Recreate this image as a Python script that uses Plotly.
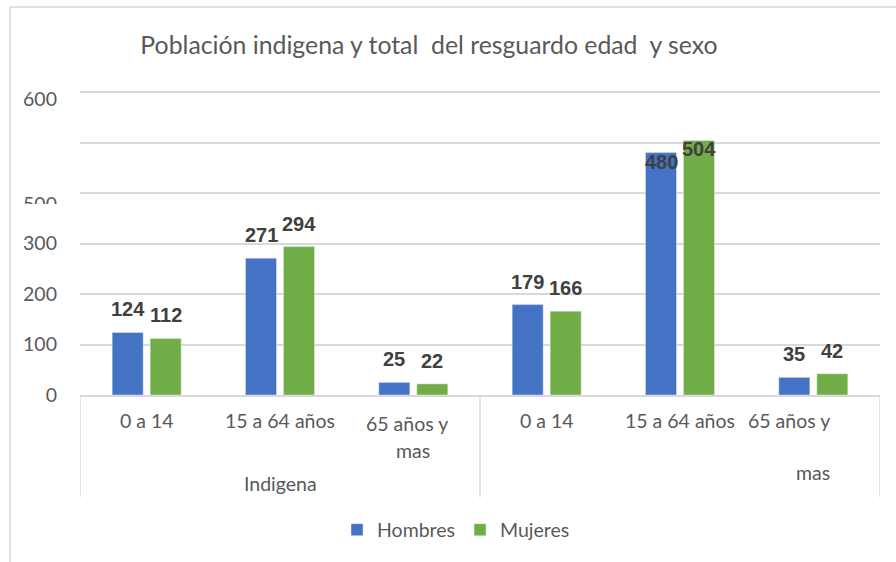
import plotly.graph_objects as go

# ---- data ----
groups = ["Indigena", "Indigena", "Indigena", "Total", "Total", "Total"]
age_groups = ["0 a 14", "15 a 64 años", "65 años y mas", "0 a 14", "15 a 64 años", "65 años y mas"]
hombres = [124, 271, 25, 179, 480, 35]
mujeres = [112, 294, 22, 166, 504, 42]
y_tick_text = ["0", "100", "200", "300", "500", "600"]

# ---- layout helpers ----
BLUE = "#4472C4"
GREEN = "#70AD47"
GRID = "#D9D9D9"
TXT = "#595959"
FONT = "Lato, Carlito, Calibri, sans-serif"

n = len(age_groups)
xpos = list(range(n))
H_PX = 304.0  # plot height in px (for label placement)
YMAX = 602

fig = go.Figure()
fig.add_trace(go.Bar(x=xpos, y=hombres, name="Hombres", marker_color=BLUE))
fig.add_trace(go.Bar(x=xpos, y=mujeres, name="Mujeres", marker_color=GREEN))
# empty trace so the label axis exists
fig.add_trace(go.Scatter(x=[], y=[], yaxis="y2", showlegend=False, hoverinfo="skip"))

annotations = []
# data labels
off = 0.142
for i in range(n):
    for val, dx in ((hombres[i], -off), (mujeres[i], off)):
        inside = val > 450
        annotations.append(dict(
            x=i + dx, y=val, xref="x", yref="y", text=f"<b>{val}</b>",
            showarrow=False, xanchor="center",
            yanchor="top" if inside else "bottom",
            yshift=4 if inside else 10,
            font=dict(family="Liberation Sans, Arial, sans-serif", size=20, color="#404040"),
        ))

# category labels
def py(px):
    return (395 - px) / H_PX

LBL = dict(family=FONT, size=19.5, color=TXT)
# (text, vertical px, horizontal shift in category units)
cat_lines = {
    0: [("0 a 14", 420, 0)],
    1: [("15 a 64 años", 420, 0)],
    2: [("65 años y", 423, -0.05), ("mas", 450, 0)],
    3: [("0 a 14", 420, 0)],
    4: [("15 a 64 años", 420, 0)],
    5: [("65 años y", 420, -0.185), ("mas", 472, 0)],
}
for i, lines in cat_lines.items():
    for txt, ypx, dx in lines:
        annotations.append(dict(x=i + dx, y=py(ypx), xref="x", yref="paper", text=txt,
                                showarrow=False, xanchor="center", yanchor="middle",
                                font=LBL))
annotations.append(dict(x=1, y=py(483), xref="x", yref="paper", text=groups[0],
                        showarrow=False, xanchor="center", yanchor="middle",
                        font=LBL))

shapes = []
# dividers in the category area
for xd in (-0.5, 2.5, 5.5):
    shapes.append(dict(type="line", xref="x", yref="paper", x0=xd, x1=xd,
                       y0=0, y1=py(497), line=dict(color=GRID, width=1.5)))
# chart frame (left and top edges)
shapes.append(dict(type="line", xref="paper", yref="paper", x0=(10 - 80) / 800, x1=(10 - 80) / 800,
                   y0=py(7), y1=py(600), line=dict(color=GRID, width=1.5)))
shapes.append(dict(type="line", xref="paper", yref="paper", x0=(10 - 80) / 800, x1=(900 - 80) / 800,
                   y0=py(7), y1=py(7), line=dict(color=GRID, width=1.5)))
# white mask clipping lower half of the "500" label
shapes.append(dict(type="rect", xref="paper", yref="paper", layer="above",
                   x0=(15 - 80) / 800, x1=(75 - 80) / 800, y0=py(218), y1=py(204),
                   fillcolor="white", line=dict(width=0)))

fig.update_layout(
    width=896, height=562,
    margin=dict(l=80, r=16, t=91, b=167),
    paper_bgcolor="white", plot_bgcolor="white",
    barmode="group", bargap=0.43, bargroupgap=0.184,
    title=dict(text="Población indigena y total\u00a0 del resguardo edad\u00a0 y sexo",
               x=429 / 896, xanchor="center", xref="container",
               y=1 - 45 / 562, yanchor="middle", yref="container",
               font=dict(family=FONT, size=24.8, color=TXT)),
    xaxis=dict(range=[-0.5, n - 0.5], showticklabels=False, showgrid=False, zeroline=False,
               showline=True, linecolor=GRID, linewidth=1.5, ticks=""),
    yaxis=dict(range=[0, YMAX], tickvals=[0, 100, 200, 300, 400, 500, 600], showticklabels=False,
               showgrid=True, gridcolor=GRID, gridwidth=1.5, zeroline=False, showline=False),
    yaxis2=dict(range=[0, YMAX], overlaying="y", side="left", anchor="x",
                tickvals=[0, 100, 200, 300, 378, 585], ticktext=y_tick_text,
                showgrid=False, zeroline=False, showline=False, ticks="",
                tickfont=dict(family=FONT, size=19.5, color=TXT), ticklabelstandoff=22),
    legend=dict(orientation="h", x=456 / 896, xref="container", xanchor="center",
                y=1 - 530 / 562, yref="container", yanchor="middle",
                font=dict(family=FONT, size=19.5, color=TXT), itemwidth=30,
                traceorder="normal"),
    annotations=annotations,
    shapes=shapes,
    showlegend=True,
)

fig.write_html("out.html", config={"displayModeBar": False},
               post_script="document.body.style.margin='0';")
